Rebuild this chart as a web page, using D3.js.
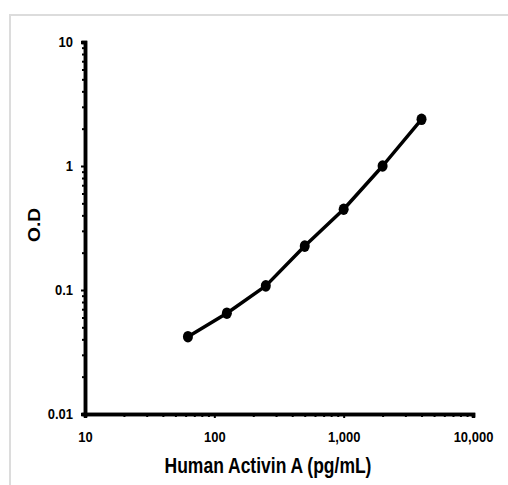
<!DOCTYPE html>
<html>
<head>
<meta charset="utf-8">
<script src="https://cdn.jsdelivr.net/npm/d3@7"></script>
<style>
  body { margin: 0; background: #fff; }
  text { font-family: "Liberation Sans", Arial, sans-serif; font-weight: bold; fill: #000; }
</style>
</head>
<body>
<svg id="chart" width="508" height="485"></svg>
<script>
// standard curve
var concentrations = [62.5, 125, 250, 500, 1000, 2000, 4000];
var odValues = [0.042, 0.065, 0.108, 0.226, 0.448, 1.0, 2.38];

var xMajor = [10, 100, 1000, 10000];
var xMajorLabels = ["10", "100", "1,000", "10,000"];
var yMajor = [0.01, 0.1, 1, 10];
var yMajorLabels = ["0.01", "0.1", "1", "10"];

var svg = d3.select("#chart");

// light frame round the picture
svg.append("rect")
  .attr("x", 10).attr("y", 15)
  .attr("width", 520).attr("height", 500)
  .attr("fill", "none")
  .attr("stroke", "#dcdcdc")
  .attr("stroke-width", 2);

var plotLeft = 85, plotRight = 473, plotTop = 42, plotBottom = 414;

var x = d3.scaleLog().domain([10, 10000]).range([plotLeft, plotRight]);
var y = d3.scaleLog().domain([0.01, 10]).range([plotBottom, plotTop]);

// minor ticks 2..9 in every decade
function minorTicks(lo, hi) {
  var out = [];
  for (var d = lo; d < hi * 0.999; d *= 10) {
    for (var k = 2; k <= 9; k++) out.push(d * k);
  }
  return out;
}

var gx = svg.append("g").attr("transform", "translate(0," + plotBottom + ")");
gx.call(d3.axisBottom(x).tickValues(minorTicks(10, 10000)).tickSize(3).tickFormat(""));
gx.selectAll("line").attr("stroke-width", 2);

var gxMaj = svg.append("g").attr("transform", "translate(0," + plotBottom + ")");
gxMaj.call(d3.axisBottom(x).tickValues(xMajor).tickSize(4).tickPadding(11)
  .tickFormat((d, i) => xMajorLabels[i]));
gxMaj.selectAll("text")
  .attr("font-size", 13)
  .attr("transform", "scale(1,1.15)");
gxMaj.selectAll("line").attr("stroke-width", 2);

var gy = svg.append("g").attr("transform", "translate(" + plotLeft + ",0)");
gy.call(d3.axisLeft(y).tickValues(minorTicks(0.01, 10)).tickSize(3).tickFormat(""));
gy.selectAll("line").attr("stroke-width", 2);

var gyMaj = svg.append("g").attr("transform", "translate(" + plotLeft + ",0)");
gyMaj.call(d3.axisLeft(y).tickValues(yMajor).tickSize(4).tickPadding(8)
  .tickFormat((d, i) => yMajorLabels[i]));
gyMaj.selectAll("text")
  .attr("font-size", 13)
  .attr("transform", "scale(1,1.15)");
gyMaj.selectAll("line").attr("stroke-width", 2);

svg.selectAll(".domain").attr("stroke", "#000").attr("stroke-width", 3.5);

// axis titles
svg.append("text")
  .attr("transform", "translate(268,473) scale(1,1.28)")
  .attr("text-anchor", "middle")
  .attr("font-size", 17.5)
  .text("Human Activin A (pg/mL)");

svg.append("text")
  .attr("transform", "translate(40,225) rotate(-90) scale(1.2,1)")
  .attr("text-anchor", "middle")
  .attr("font-size", 16)
  .text("O.D");

// curve
var line = d3.line()
  .x((d, i) => x(concentrations[i]))
  .y(d => y(d));

svg.append("path")
  .datum(odValues)
  .attr("d", line)
  .attr("fill", "none")
  .attr("stroke", "#000")
  .attr("stroke-width", 3.5)
  .attr("stroke-linejoin", "round");

svg.selectAll("ellipse.pt")
  .data(odValues)
  .enter().append("ellipse")
  .attr("class", "pt")
  .attr("cx", (d, i) => x(concentrations[i]))
  .attr("cy", d => y(d))
  .attr("rx", 5)
  .attr("ry", 5.8)
  .attr("fill", "#000");
</script>
</body>
</html>
